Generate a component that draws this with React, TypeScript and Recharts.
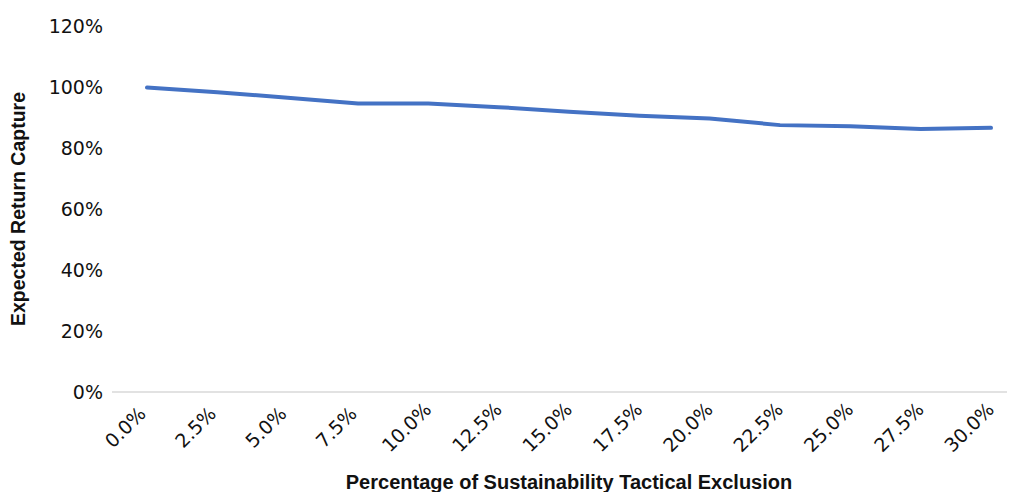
import { LineChart, Line, XAxis, YAxis, Label } from "recharts";

const exclusionLevels = ["0.0%", "2.5%", "5.0%", "7.5%", "10.0%", "12.5%", "15.0%", "17.5%", "20.0%", "22.5%", "25.0%", "27.5%", "30.0%"];
const returnCapture = [99.8, 98.3, 96.5, 94.6, 94.6, 93.4, 91.9, 90.6, 89.7, 87.5, 87.1, 86.2, 86.6];
const yTicks = [0, 20, 40, 60, 80, 100, 120];

const data = exclusionLevels.map((level, i) => ({ level, value: returnCapture[i] }));

const FONT = "'DejaVu Sans', sans-serif";
const TITLE_FONT = "'Liberation Sans', Arial, sans-serif";

function AngledTick({ x, y, payload }: any) {
  const cx = x - 22;
  const cy = y + 27;
  return (
    <text
      x={cx}
      y={cy}
      transform={`rotate(-45, ${cx}, ${cy})`}
      textAnchor="middle"
      dominantBaseline="central"
      fontFamily={FONT}
      fontSize={19}
      fill="#111"
    >
      {payload.value}
    </text>
  );
}

export default function App() {
  return (
    <div style={{ width: 1007, height: 484, overflow: "hidden" }}>
      <LineChart width={1030} height={484} data={data} margin={{ top: 18, right: 12, left: 0, bottom: 0 }}>
        <XAxis
          dataKey="level"
          tick={<AngledTick />}
          tickLine={false}
          axisLine={{ stroke: "#d9d9d9", strokeWidth: 1.5 }}
          interval={0}
          height={100}
          padding={{ left: 35, right: 35 }}
        >
          <Label
            content={({ viewBox }: any) => (
              <text
                x={viewBox.x + viewBox.width / 2}
                y={viewBox.y + 97}
                textAnchor="middle"
                fontFamily={TITLE_FONT}
                fontSize={20}
                fontWeight={700}
                fill="#111"
              >
                Percentage of Sustainability Tactical Exclusion
              </text>
            )}
          />
        </XAxis>
        <YAxis
          domain={[0, 120]}
          ticks={yTicks}
          tickFormatter={(v) => `${v}%`}
          tickLine={false}
          axisLine={false}
          width={104}
          tickMargin={3}
          tick={{ fontFamily: FONT, fontSize: 19, fill: "#111" }}
        >
          <Label
            content={({ viewBox }: any) => {
              const cx = 10;
              const cy = viewBox.y + viewBox.height / 2;
              return (
                <text
                  x={cx}
                  y={cy}
                  transform={`rotate(-90, ${cx}, ${cy})`}
                  textAnchor="middle"
                  dominantBaseline="central"
                  fontFamily={TITLE_FONT}
                  fontSize={19.5}
                  fontWeight={700}
                  fill="#111"
                >
                  Expected Return Capture
                </text>
              );
            }}
          />
        </YAxis>
        <Line
          type="linear"
          dataKey="value"
          stroke="#4472C4"
          strokeWidth={4}
          strokeLinecap="round"
          dot={false}
          isAnimationActive={false}
        />
      </LineChart>
    </div>
  );
}
